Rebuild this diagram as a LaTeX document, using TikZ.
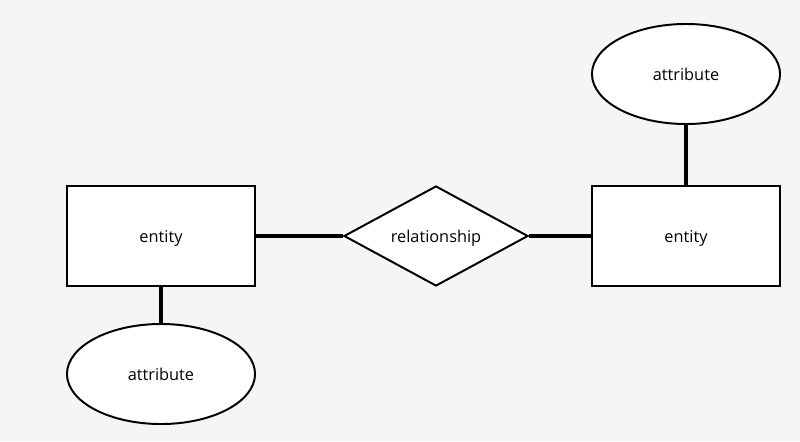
\documentclass[tikz,border=0pt]{standalone}
\usepackage{fontspec}
\setsansfont{Open Sans}
\usepackage{tikz}
\usetikzlibrary{positioning,shapes.geometric}
\definecolor{canvas}{HTML}{F5F5F5}

\begin{document}
\begin{tikzpicture}[
  x=0.025cm, y=-0.025cm,
  label font/.style={font=\sffamily\fontsize{11.6}{13}\selectfont, text height=1.2em, text depth=0.25em},
  entity/.style={draw, line width=1.4pt, fill=white, label font, minimum width=4.7cm, minimum height=2.5cm, inner sep=0pt},
  attr/.style={ellipse, draw, line width=1.4pt, fill=white, label font, minimum width=4.7cm, minimum height=2.5cm, inner sep=0pt},
  rel/.style={diamond, aspect=1.84, draw, line width=1.4pt, fill=white, label font, minimum width=4.6cm, minimum height=2.5cm, inner sep=0pt},
  link/.style={line width=2.8pt}
]

\fill[canvas] (0,0) rectangle (800,441);

\node[entity] (leftent) at (161,236) {entity};
\node[attr] (leftattr) at (161,374) {attribute};
\node[rel] (relship) at (436,236) {relationship};
\node[entity] (rightent) at (686,236) {entity};
\node[attr] (rightattr) at (686,74) {attribute};

\draw[link] (leftent) -- (relship);
\draw[link] (relship) -- (rightent);
\draw[link] (leftent) -- (leftattr);
\draw[link] (rightent) -- (rightattr);

\end{tikzpicture}
\end{document}
